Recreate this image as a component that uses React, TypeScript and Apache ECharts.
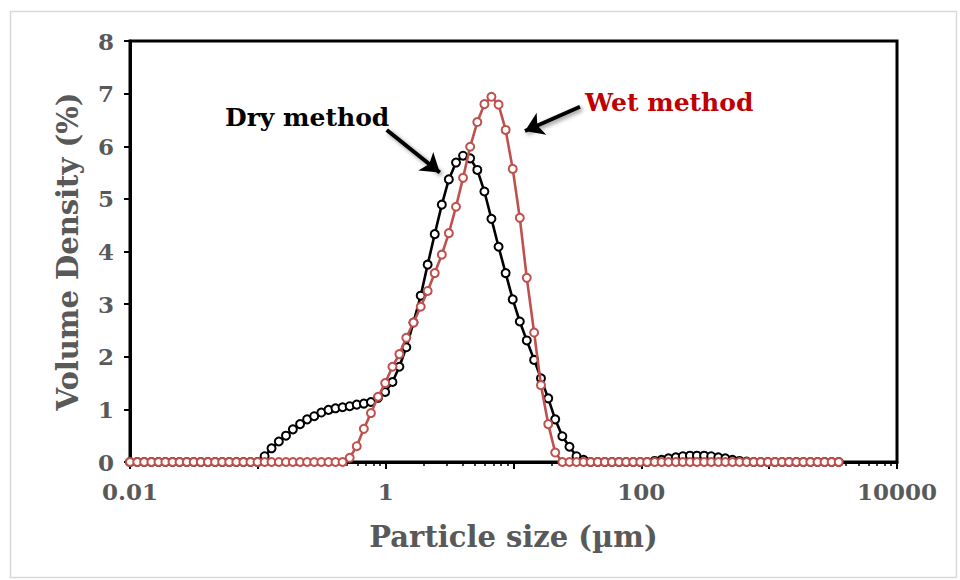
import React, { useEffect, useRef } from "react";
import * as echarts from "echarts";

// Particle size classes (µm), laser-diffraction grid
const sizes = [
  0.01, 0.0114, 0.0129, 0.0147, 0.0167, 0.0189, 0.0215, 0.0244, 0.0278, 0.0315,
  0.0358, 0.0407, 0.0463, 0.0526, 0.0597, 0.0679, 0.0771, 0.0876, 0.0995, 0.113,
  0.128, 0.146, 0.166, 0.188, 0.214, 0.243, 0.276, 0.314, 0.357, 0.405,
  0.46, 0.523, 0.594, 0.675, 0.767, 0.872, 0.991, 1.13, 1.28, 1.45,
  1.65, 1.88, 2.13, 2.42, 2.75, 3.12, 3.55, 4.03, 4.58, 5.21,
  5.92, 6.72, 7.64, 8.68, 9.86, 11.2, 12.7, 14.5, 16.4, 18.7,
  21.2, 24.1, 27.4, 31.1, 35.3, 40.1, 45.6, 51.8, 58.9, 66.9,
  76, 86.4, 98.1, 111, 127, 144, 163, 186, 211, 240,
  272, 310, 352, 400, 454, 516, 586, 666, 756, 859,
  976, 1110, 1260, 1430, 1630, 1850, 2100, 2390, 2710, 3080,
  3500,
];

// Volume density (%) – dry dispersion
const dryMethod = [
  0, 0, 0, 0, 0, 0, 0, 0, 0, 0,
  0, 0, 0, 0, 0, 0, 0, 0, 0, 0.11,
  0.26, 0.39, 0.5, 0.62, 0.72, 0.81, 0.87, 0.94, 0.99, 1.02,
  1.04, 1.06, 1.09, 1.11, 1.14, 1.22, 1.33, 1.52, 1.81, 2.18,
  2.65, 3.16, 3.75, 4.33, 4.89, 5.37, 5.69, 5.82, 5.77, 5.55,
  5.14, 4.62, 4.09, 3.59, 3.09, 2.67, 2.31, 1.94, 1.59, 1.21,
  0.81, 0.49, 0.29, 0.11, 0.04, 0, 0, 0, 0, 0,
  0, 0, 0, 0, 0.02, 0.04, 0.07, 0.09, 0.11, 0.12,
  0.12, 0.12, 0.11, 0.09, 0.07, 0.04, 0.02, 0.01, 0, 0,
  0, 0, 0, 0, 0, 0, 0, 0, 0, 0,
  0,
];

// Volume density (%) – wet dispersion
const wetMethod = [
  0, 0, 0, 0, 0, 0, 0, 0, 0, 0,
  0, 0, 0, 0, 0, 0, 0, 0, 0, 0,
  0, 0, 0, 0, 0, 0, 0, 0, 0, 0,
  0, 0.08, 0.3, 0.63, 0.93, 1.24, 1.5, 1.81, 2.05, 2.36,
  2.65, 2.95, 3.25, 3.59, 3.94, 4.35, 4.85, 5.4, 5.99, 6.46,
  6.8, 6.94, 6.79, 6.31, 5.57, 4.64, 3.5, 2.46, 1.46, 0.72,
  0.18, 0, 0, 0, 0, 0, 0, 0, 0, 0,
  0, 0, 0, 0, 0, 0, 0, 0, 0, 0,
  0, 0, 0, 0, 0, 0, 0, 0, 0, 0,
  0, 0, 0, 0, 0, 0, 0, 0, 0, 0,
  0,
];

const xDecades = [0.01, 0.1, 1, 10, 100, 1000, 10000];
const xLabelValues = [0.01, 1, 100, 10000];
const xTickLabels = ["0.01", "1", "100", "10000"];
const minorMultipliers = [2, 3, 4, 5, 6, 7, 8, 9];

// Annotation arrows: [start, end] in data coordinates (size µm, density %)
const dryArrow = [[1.02, 6.31], [2.65, 5.5]];
const wetArrow = [[33.1, 6.75], [12.3, 6.29]];

const FONT = "'DejaVu Serif', serif";
const GREY = "#595959";
const RED = "#C0504D";

export default function App() {
  const ref = useRef<HTMLDivElement>(null);

  useEffect(() => {
    if (!ref.current) return;
    const chart = echarts.init(ref.current, undefined, { renderer: "svg" });

    const minorTicks = xDecades
      .slice(0, -1)
      .flatMap((d) => minorMultipliers.map((m) => +(m * d).toPrecision(3)));

    const labelFor = (v: number) => {
      const idx = xLabelValues.findIndex((x) => Math.abs(Math.log10(x) - Math.log10(v)) < 1e-6);
      return idx >= 0 ? xTickLabels[idx] : "";
    };

    const arrowLine = (pts: number[][]) => ({
      silent: true,
      symbol: ["none", "arrow"],
      symbolSize: 18,
      label: { show: false },
      emphasis: { disabled: true },
      lineStyle: {
        color: "#000",
        width: 4,
        type: "solid",
        shadowColor: "rgba(0,0,0,0.45)",
        shadowBlur: 4,
        shadowOffsetX: 2,
        shadowOffsetY: 2,
      },
      data: [[{ coord: pts[0] }, { coord: pts[1] }]],
    });

    const gridBox = { left: 130, right: 63, top: 41, bottom: 118 };

    chart.setOption({
      animation: false,
      backgroundColor: "#fff",
      grid: [
        { ...gridBox, show: true, borderColor: "#000", borderWidth: 3, containLabel: false },
        { ...gridBox, show: false, containLabel: false },
      ],
      xAxis: [
        {
          type: "log",
          logBase: 10,
          gridIndex: 0,
          min: 0.01,
          max: 10000,
          name: "Particle size (µm)",
          nameLocation: "middle",
          nameGap: 60,
          nameTextStyle: { fontFamily: FONT, fontWeight: "bold", fontSize: 29, color: GREY },
          axisLine: { show: true, lineStyle: { color: "#000", width: 3 } },
          axisTick: {
            show: true,
            length: 7,
            lineStyle: { color: "#000", width: 2 },
            customValues: xDecades,
          },
          axisLabel: {
            customValues: xLabelValues,
            formatter: (v: number) => labelFor(v),
            fontFamily: FONT,
            fontWeight: "bold",
            fontSize: 23,
            color: GREY,
            margin: 18,
          },
          splitLine: { show: false },
          minorSplitLine: { show: false },
        },
        {
          type: "log",
          logBase: 10,
          gridIndex: 1,
          min: 0.01,
          max: 10000,
          position: "bottom",
          axisLine: { show: false },
          axisTick: {
            show: true,
            length: 4,
            lineStyle: { color: "#000", width: 1.5 },
            customValues: minorTicks,
          },
          axisLabel: { show: false },
          splitLine: { show: false },
        },
      ],
      yAxis: [
        {
          type: "value",
          gridIndex: 0,
          min: 0,
          max: 8,
          interval: 1,
          name: "Volume Density (%)",
          nameLocation: "middle",
          nameGap: 48,
          nameRotate: 90,
          nameTextStyle: { fontFamily: FONT, fontWeight: "bold", fontSize: 29, color: GREY },
          axisLine: { show: true, lineStyle: { color: "#000", width: 3 } },
          axisTick: { show: true, length: 6, lineStyle: { color: "#000", width: 2 } },
          axisLabel: { fontFamily: FONT, fontWeight: "bold", fontSize: 23, color: GREY, margin: 16 },
          splitLine: { show: false },
        },
        { type: "value", gridIndex: 1, min: 0, max: 1, show: false },
      ],
      series: [
        {
          name: "Dry method",
          type: "line",
          xAxisIndex: 0,
          yAxisIndex: 0,
          data: sizes.map((s, i) => [s, dryMethod[i]]),
          symbol: "circle",
          symbolSize: 8,
          showAllSymbol: true,
          lineStyle: { color: "#000", width: 2.6 },
          itemStyle: { color: "#fff", borderColor: "#000", borderWidth: 2 },
          emphasis: { disabled: true },
          markLine: arrowLine(dryArrow),
          z: 2,
        },
        {
          name: "Wet method",
          type: "line",
          xAxisIndex: 0,
          yAxisIndex: 0,
          data: sizes.map((s, i) => [s, wetMethod[i]]),
          symbol: "circle",
          symbolSize: 8,
          showAllSymbol: true,
          lineStyle: { color: RED, width: 2.6 },
          itemStyle: { color: "#fff", borderColor: RED, borderWidth: 2 },
          emphasis: { disabled: true },
          markLine: arrowLine(wetArrow),
          z: 3,
        },
      ],
      graphic: [
        {
          type: "rect",
          silent: true,
          shape: { x: 10.5, y: 11.5, width: 946, height: 566 },
          style: { fill: "none", stroke: "#d9d9d9", lineWidth: 1.5 },
          z: -10,
        },
        {
          type: "text",
          left: 225,
          top: 105,
          style: {
            text: "Dry method",
            fontFamily: FONT,
            fontWeight: "bold",
            fontSize: 25,
            fill: "#000",
          },
        },
        {
          type: "text",
          left: 585,
          top: 90,
          style: {
            text: "Wet method",
            fontFamily: FONT,
            fontWeight: "bold",
            fontSize: 25,
            fill: "#C00000",
          },
        },
      ],
    });

    return () => chart.dispose();
  }, []);

  return (
    <div
      ref={ref}
      style={{ position: "fixed", left: 0, top: 0, width: 960, height: 580 }}
    />
  );
}
